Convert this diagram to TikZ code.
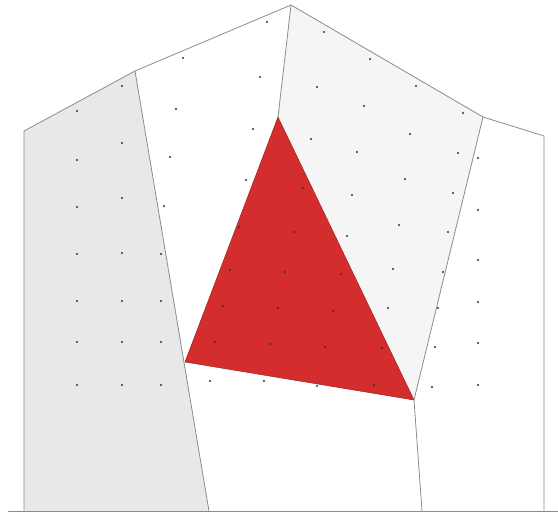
\documentclass[tikz,border=0pt]{standalone}
\usepackage{tikz}
\definecolor{trired}{RGB}{212,45,45}
\begin{document}
\begin{tikzpicture}[
    x=1pt, y=-1pt,
    edge/.style={draw=black!45, line width=0.8pt, line join=round},
    dot/.style={fill=black!80},
  ]
    \useasboundingbox (0,0) rectangle (558,513);
    % corners of the cells
    \coordinate (bl) at (24,511);
    \coordinate (tl) at (24,131);
    \coordinate (sl) at (135,71);
    \coordinate (apex) at (291,5);
    \coordinate (sr) at (483,117);
    \coordinate (tr) at (544,136);
    \coordinate (br) at (544,511);
    \coordinate (fl) at (209,511);
    \coordinate (fr) at (422,511);
    \coordinate (ttop) at (278,117);
    \coordinate (tleft) at (185,362);
    \coordinate (tright) at (414,400);

    % shaded cells
    \fill[black!9] (bl) -- (tl) -- (sl) -- (fl) -- cycle;
    \fill[black!4] (apex) -- (sr) -- (tright) -- (ttop) -- cycle;
    \filldraw[fill=trired, draw=trired!75!black, line width=0.5pt] (ttop) -- (tleft) -- (tright) -- cycle;

    % cell borders
    \draw[edge] (bl) -- (tl) -- (sl) -- (apex) -- (sr) -- (tr) -- (br);
    \draw[edge] (8,511) -- (558,511);
    \draw[edge] (sl) -- (fl);
    \draw[edge] (apex) -- (ttop);
    \draw[edge] (sr) -- (tright) -- (fr);

    % points
    \foreach \x/\y in {77/111,122/86,77/160,122/143,77/207,122/198,77/254,122/253,161/254,
        77/301,122/301,161/301,77/342,122/342,161/342,77/385,122/385,161/385,
        183/58,267/22,260/77,176/109,253/129,170/157,246/180,164/206,
        239/227,303/188,294/232,230/270,285/272,341/274,223/306,278/308,333/311,
        215/342,270/344,325/347,382/348,374/385,317/386,
        324/32,370/59,317/87,416/86,364/106,463/113,311/139,410/134,357/152,458/153,
        405/179,352/195,453/193,399/225,347/236,448/232,393/269,443/272,388/308,438/308,435/347,
        478/158,478/210,478/260,478/302,478/343,478/385,432/387,
        210/381,264/381}
      \fill[dot] (\x,\y) circle (1.1pt);
\end{tikzpicture}
\end{document}
